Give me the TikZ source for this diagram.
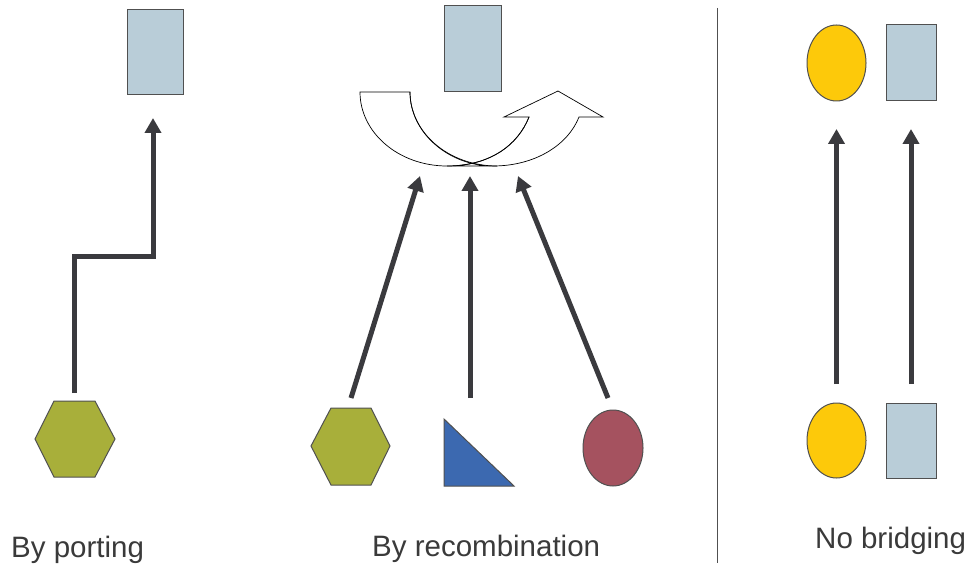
\documentclass[tikz,border=0pt]{standalone}
\usepackage{fontspec}
\setmainfont{Liberation Sans}
\usetikzlibrary{arrows.meta,shapes.geometric}
\definecolor{boxfill}{HTML}{B9CDD8}
\definecolor{edgegray}{HTML}{505050}
\definecolor{conncol}{HTML}{3A3A3E}
\definecolor{textcol}{HTML}{3A3A3A}
\definecolor{hexfill}{HTML}{A8AF3A}
\definecolor{trifill}{HTML}{3C69B0}
\definecolor{redfill}{HTML}{A5525F}
\definecolor{yelfill}{HTML}{FDC90A}
\begin{document}
\begin{tikzpicture}[x=1pt,y=-1pt,
  box/.style={draw=edgegray, fill=boxfill, line width=1pt, inner sep=0pt, outer sep=0pt},
  oval/.style={ellipse, draw=edgegray, line width=1pt, inner sep=0pt, outer sep=0pt},
  shapeline/.style={draw=edgegray, line width=1pt, line join=miter},
  conn/.style={draw=conncol, line width=5pt, line join=miter, -{Triangle[width=16pt,length=15pt]}},
  uturn/.style={draw=black, line width=0.7pt, fill=white},
  divider/.style={draw=edgegray, line width=1pt},
  lbl/.style={text=textcol, font=\fontsize{29.5}{35}\selectfont, inner sep=0pt, anchor=base west}]
\useasboundingbox (0,0) rectangle (973,569);

% ---------- left panel: by porting ----------
\node[box, minimum width=56pt, minimum height=85pt] (tA) at (155,52.5) {};
\path[shapeline, fill=hexfill] (54,401) -- (95,401) -- (115,439) -- (95,477) -- (54,477) -- (35,439) -- cycle;
\coordinate (hexAtop) at (74,393);
\coordinate (bendA) at (74,256);
\coordinate (tipA) at (153,118);
\draw[conn] (hexAtop) -- (bendA) -| (tipA);
\node[lbl] (lA) at (11,557) {By porting};

% ---------- middle panel: by recombination ----------
\node[box, minimum width=57pt, minimum height=86pt] (tB) at (472.5,49) {};
% u-turn arrow
\path[uturn] (360,92) .. controls (360,133) and (399,166) .. (447,166)
  -- (493,166) .. controls (535,166) and (568,145) .. (579,117)
  -- (603,117) -- (558,91) -- (504,117) -- (529,117)
  .. controls (518,145) and (490,166) .. (447,166)
  -- (493,166) .. controls (449,166) and (410,133) .. (410,92) -- cycle;
\draw[uturn, fill=none] (529,117) .. controls (518,145) and (490,166) .. (447,166);
\draw[uturn, fill=none] (410,92) .. controls (410,133) and (449,166) .. (497,166);
% sources
\path[shapeline, fill=hexfill] (331,408) -- (371,408) -- (390,446) -- (371,485) -- (331,485) -- (311,446) -- cycle;
\path[shapeline, fill=trifill] (444,419) -- (444,486) -- (514,486) -- cycle;
\node[oval, fill=redfill, minimum width=60pt, minimum height=76pt] (eB) at (613,448) {};
\coordinate (sB1) at (351,398);
\coordinate (sB2) at (470,398);
\coordinate (sB3) at (608,398);
\coordinate (eB1) at (420,176);
\coordinate (eB2) at (470,176);
\coordinate (eB3) at (518,176);
\draw[conn] (sB1) -- (eB1);
\draw[conn] (sB2) -- (eB2);
\draw[conn] (sB3) -- (eB3);
\node[lbl] (lB) at (372,556) {By recombination};

% ---------- divider ----------
\coordinate (dTop) at (717,8);
\coordinate (dBot) at (717,563);
\draw[divider] (dTop) -- (dBot);

% ---------- right panel: no bridging ----------
\node[oval, fill=yelfill, minimum width=59pt, minimum height=76pt] (tC1) at (836.5,63) {};
\node[box, minimum width=50pt, minimum height=76pt] (tC2) at (911,63) {};
\node[oval, fill=yelfill, minimum width=59pt, minimum height=75pt] (bC1) at (836.5,440.5) {};
\node[box, minimum width=50pt, minimum height=75pt] (bC2) at (911,440.5) {};
\draw[conn, shorten <=19pt, shorten >=28pt] (bC1.north) -- (tC1.south);
\draw[conn, shorten <=19pt, shorten >=28pt] (bC2.north) -- (tC2.south);
\node[lbl] (lC) at (815,548) {No bridging};
\end{tikzpicture}
\end{document}
